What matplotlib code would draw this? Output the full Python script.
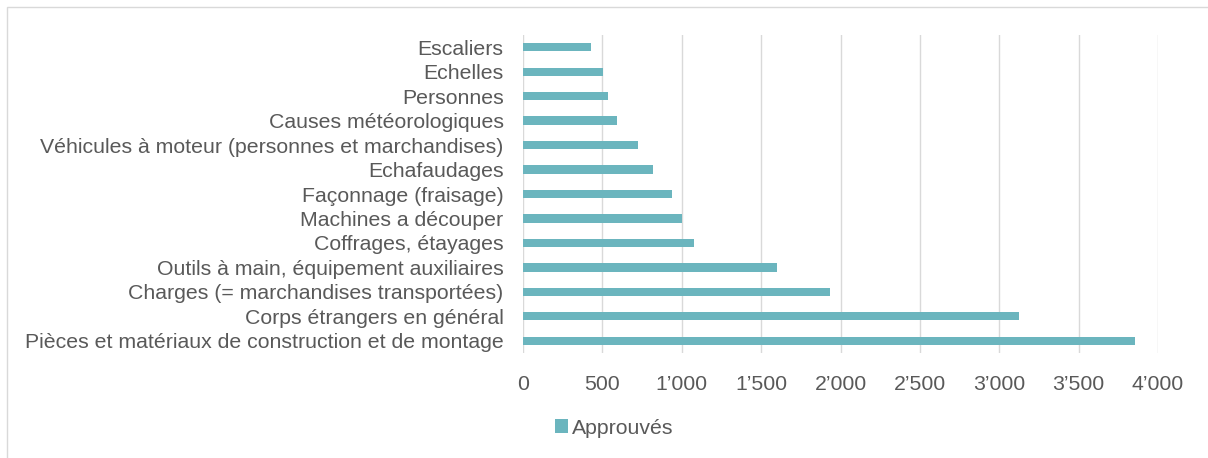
import matplotlib
matplotlib.use("Agg")
import matplotlib.pyplot as plt
from matplotlib.patches import Rectangle
from matplotlib.ticker import FuncFormatter

categories = [
    "Escaliers",
    "Echelles",
    "Personnes",
    "Causes météorologiques",
    "Véhicules à moteur (personnes et marchandises)",
    "Echafaudages",
    "Façonnage (fraisage)",
    "Machines a découper",
    "Coffrages, étayages",
    "Outils à main, équipement auxiliaires",
    "Charges (= marchandises transportées)",
    "Corps étrangers en général",
    "Pièces et matériaux de construction et de montage",
]
values = [431, 507, 536, 592, 727, 822, 937, 1000, 1077, 1601, 1936, 3122, 3856]
series_name = "Approuvés"
xticks = [0, 500, 1000, 1500, 2000, 2500, 3000, 3500, 4000]

plt.rcParams['font.family'] = ['Liberation Sans', 'DejaVu Sans']
W, H = 1208, 458
fig = plt.figure(figsize=(W / 100, H / 100), dpi=100)

# chart border
fig.patches.append(Rectangle((7 / W, -0.1), 1.2, (H - 7) / H + 0.1,
                             transform=fig.transFigure, fill=False,
                             edgecolor='#D9D9D9', linewidth=1))

left, right, top, bottom = 523, 1158, 35, 353
ax = fig.add_axes([left / W, 1 - bottom / H, (right - left) / W, (bottom - top) / H])

color = '#6BB5BE'
text_color = '#595959'
fs = 15.3
ypos = list(range(len(categories)))
ax.barh(ypos, values, height=0.34, color=color, label=series_name, zorder=3)
ax.set_ylim(len(categories) - 0.5, -0.5)
ax.set_xlim(0, 4000)
ax.set_yticks(ypos)
ax.set_yticklabels(categories, fontsize=fs, color=text_color)
ax.set_xticks(xticks)
ax.xaxis.set_major_formatter(FuncFormatter(lambda v, p: f"{int(v):,}".replace(",", "\u2019")))
ax.tick_params(axis='x', labelsize=fs, labelcolor=text_color, length=0, pad=16)
ax.tick_params(axis='y', length=0, pad=14)
ax.grid(axis='x', color='#D9D9D9', linewidth=1, zorder=0)
for s in ax.spines.values():
    s.set_visible(False)

leg = fig.legend(loc='center', bbox_to_anchor=(614 / W, 1 - 428 / H), frameon=False,
                 fontsize=fs, handlelength=0.6, handleheight=0.6, handletextpad=0.2)
for t in leg.get_texts():
    t.set_color(text_color)

fig.savefig("out.png", dpi=100)
